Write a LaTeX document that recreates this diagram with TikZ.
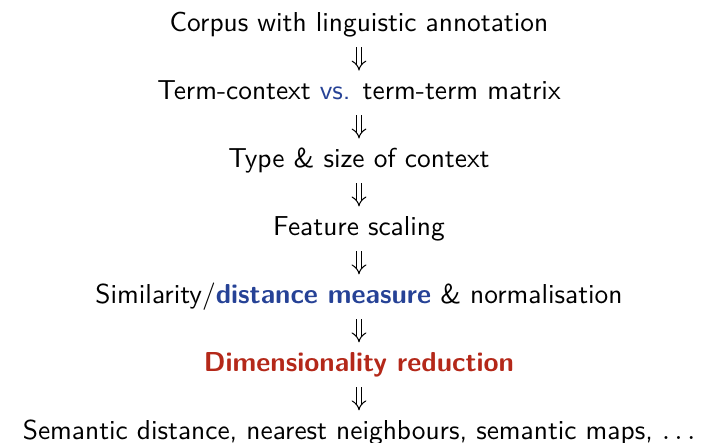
\documentclass[tikz,border=0pt]{standalone}
\usetikzlibrary{arrows.meta}
\definecolor{structblue}{RGB}{38,66,150}
\definecolor{alertred}{RGB}{180,40,25}
\tikzset{
  stage/.style={font=\sffamily\fontsize{10.55pt}{12.7pt}\selectfont, text height=1.7ex, text depth=0.5ex, inner sep=0pt},
  stepflow/.style={double, double distance=1.6pt, line width=0.4pt, -{Implies}, shorten <=0.13cm, shorten >=0.13cm}
}
\begin{document}
\begin{tikzpicture}
    \useasboundingbox (0,0) rectangle (9.49,-5.99);

    % Stufen der Verarbeitung
    \node[stage] (corpus) at (4.86,-0.338) {Corpus with linguistic annotation};
    \node[stage] (matrix) at (4.86,-1.258) {Term-context \textcolor{structblue}{vs.} term-term matrix};
    \node[stage] (context) at (4.86,-2.178) {Type \& size of context};
    \node[stage] (scaling) at (4.86,-3.098) {Feature scaling};
    \node[stage] (measure) at (4.86,-4.018) {Similarity/\textcolor{structblue}{\bfseries distance measure} \& normalisation};
    \node[stage] (reduction) at (4.86,-4.938) {\color{alertred}\bfseries Dimensionality reduction};
    \node[stage] (result) at (4.86,-5.858) {Semantic distance, nearest neighbours, semantic maps, $\ldots$};

    % Pfeile zwischen den Stufen
    \draw[stepflow] (corpus) -- (matrix);
    \draw[stepflow] (matrix) -- (context);
    \draw[stepflow] (context) -- (scaling);
    \draw[stepflow] (scaling) -- (measure);
    \draw[stepflow] (measure) -- (reduction);
    \draw[stepflow] (reduction) -- (result);
\end{tikzpicture}
\end{document}
